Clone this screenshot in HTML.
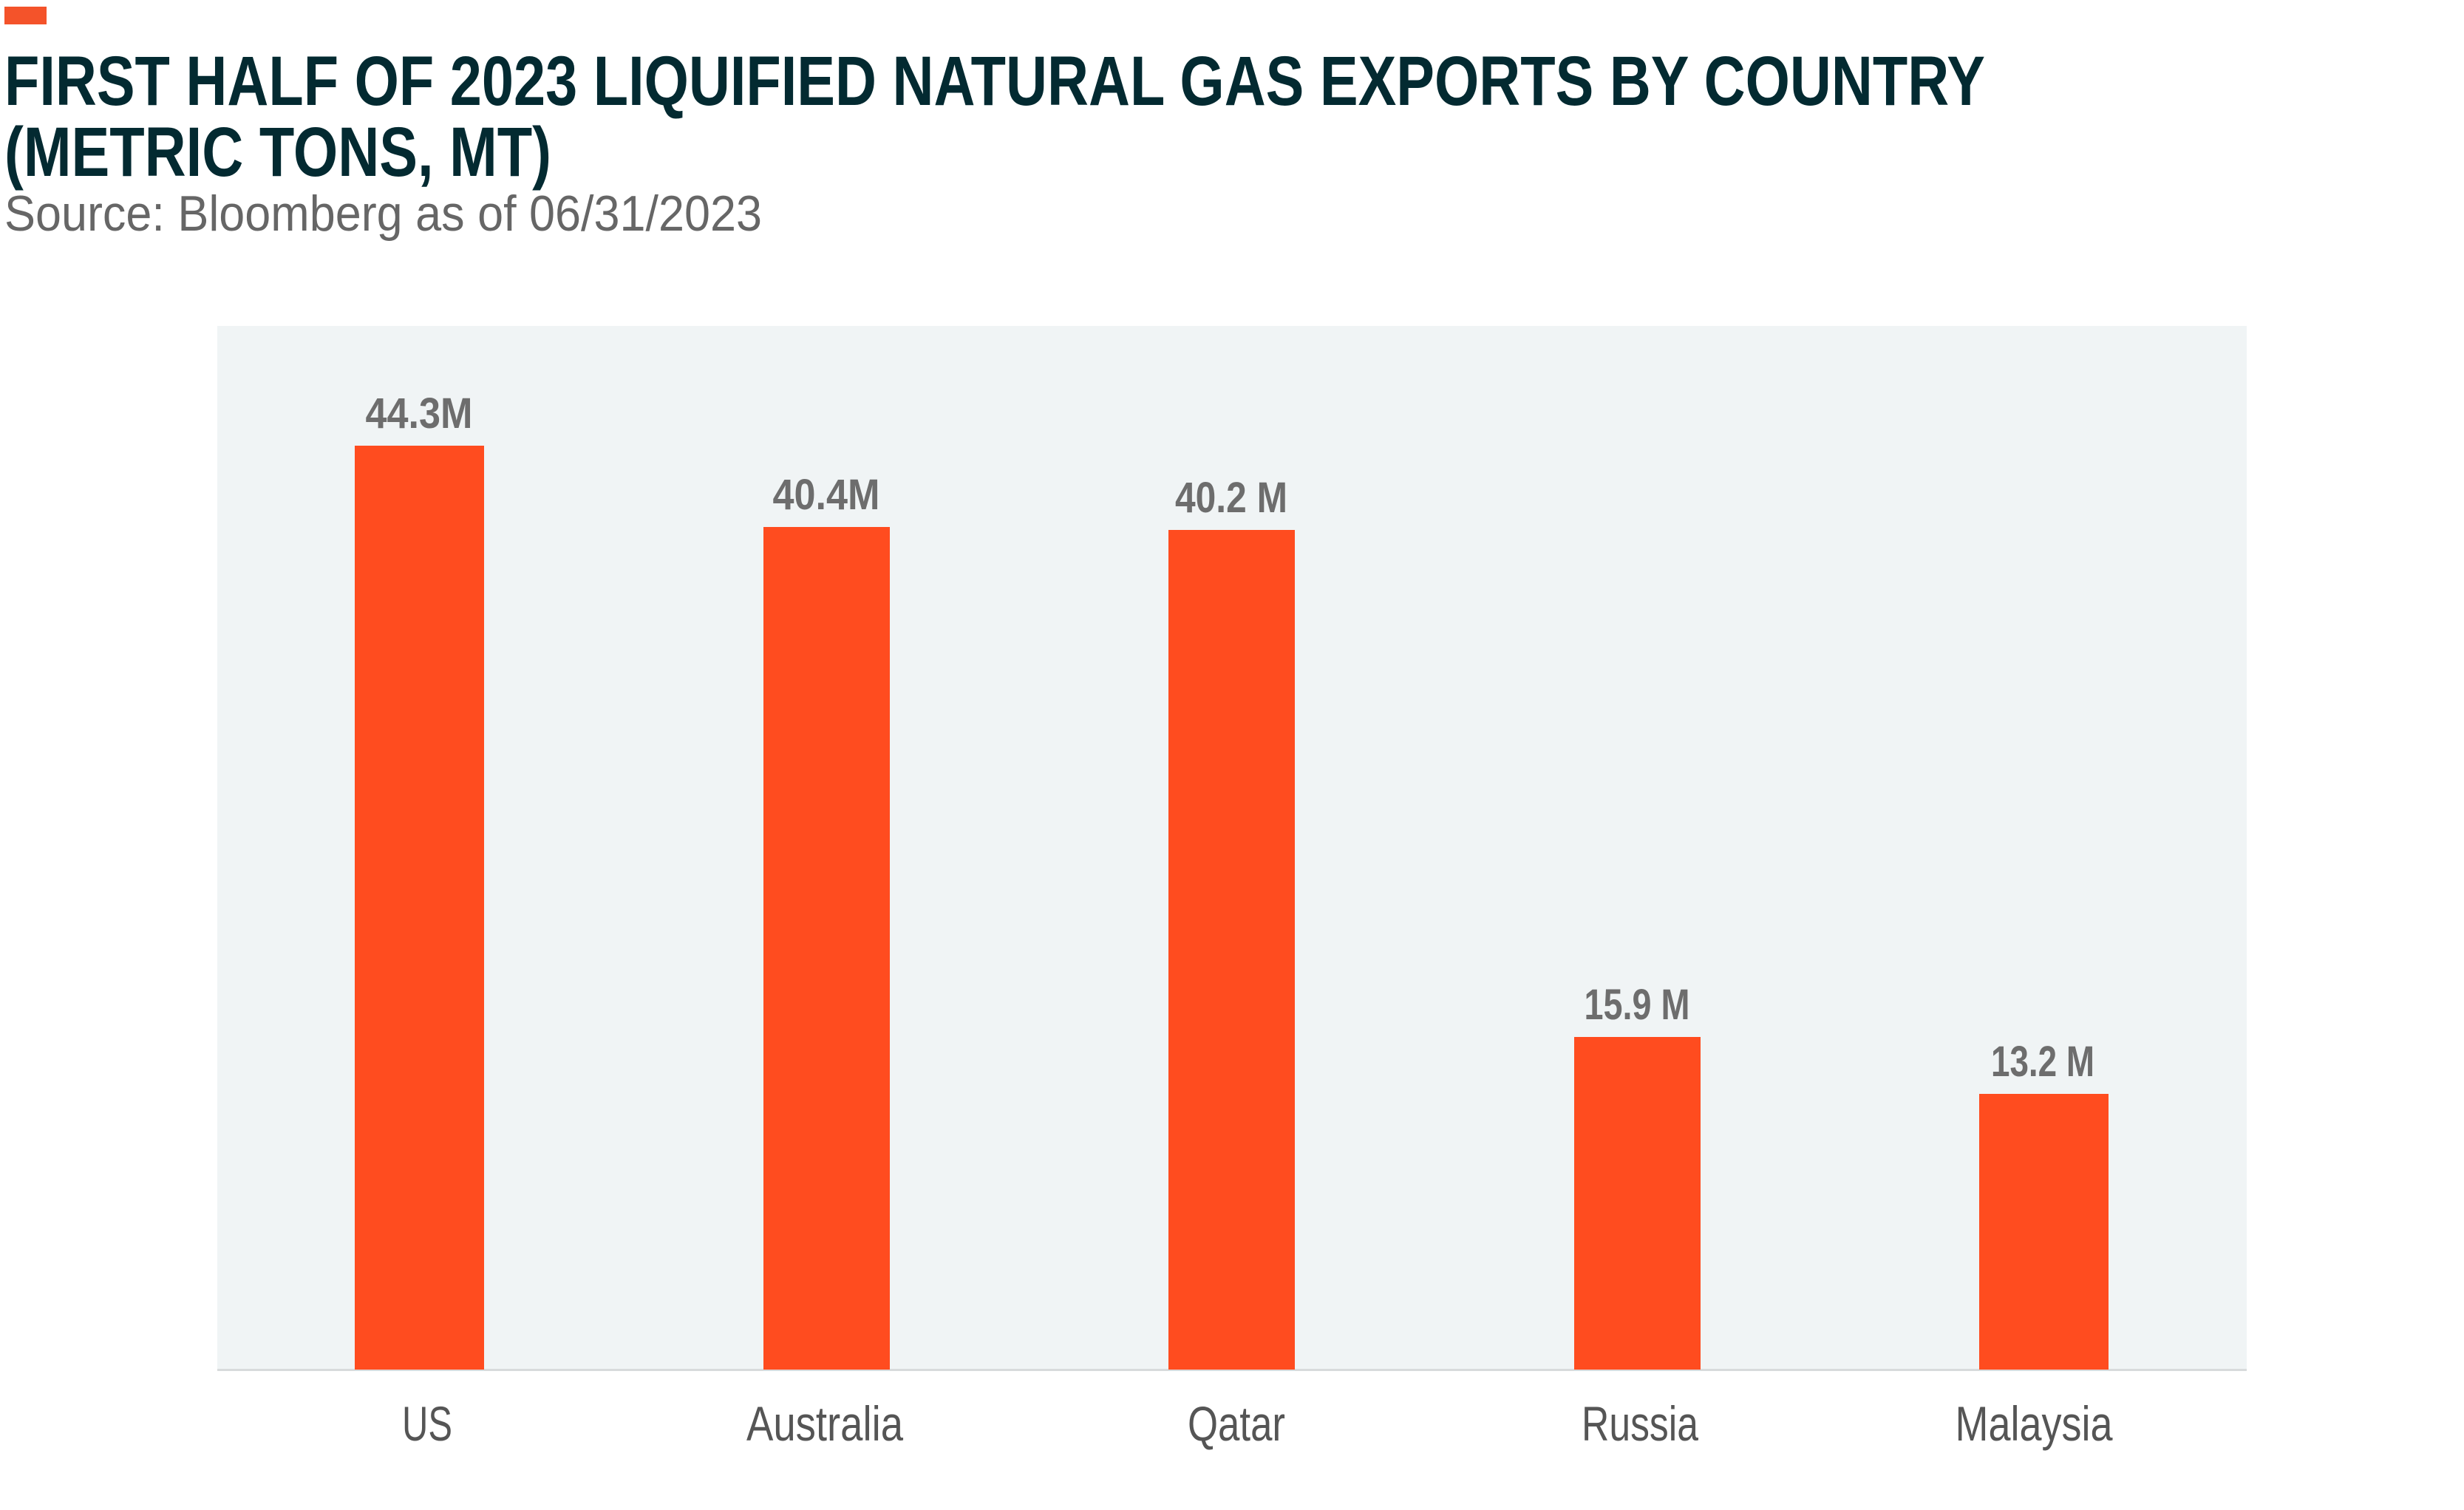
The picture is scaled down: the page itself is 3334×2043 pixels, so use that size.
<!DOCTYPE html>
<html><head><meta charset="utf-8"><style>
html,body{margin:0;padding:0;background:#fff;}
svg{display:block;}
</style></head><body>
<svg width="3334" height="2043" viewBox="0 0 3334 2043" xmlns="http://www.w3.org/2000/svg">
<rect x="0" y="0" width="3334" height="2043" fill="#fff"/>
<rect x="6" y="9" width="57" height="24" fill="#f4532a"/>
<g font-family="Liberation Sans, Arial, sans-serif">
<text x="6" y="142" font-size="95" font-weight="bold" fill="#032a31" textLength="2680" lengthAdjust="spacingAndGlyphs">FIRST HALF OF 2023 LIQUIFIED NATURAL GAS EXPORTS BY COUNTRY</text>
<text x="6" y="238" font-size="95" font-weight="bold" fill="#032a31" textLength="740" lengthAdjust="spacingAndGlyphs">(METRIC TONS, MT)</text>
<text x="6" y="312" font-size="68" fill="#666" textLength="1025" lengthAdjust="spacingAndGlyphs">Source: Bloomberg as of 06/31/2023</text>
</g>
<rect x="294" y="441" width="2746" height="1412" fill="#f0f4f5"/>
<rect x="294" y="1852" width="2746" height="3" fill="#d8dbdc"/>
<g fill="#ff4c1f">
<rect x="480" y="603" width="175" height="1250"/>
<rect x="1033" y="713" width="171" height="1140"/>
<rect x="1581" y="717" width="171" height="1136"/>
<rect x="2130" y="1403" width="171" height="450"/>
<rect x="2678" y="1480" width="175" height="373"/>
</g>
<g font-family="Liberation Sans, Arial, sans-serif" font-size="58" font-weight="bold" fill="#6d6d6d" text-anchor="middle">
<text x="567" y="579" textLength="145" lengthAdjust="spacingAndGlyphs">44.3M</text>
<text x="1118" y="689" textLength="145" lengthAdjust="spacingAndGlyphs">40.4M</text>
<text x="1666" y="693" textLength="152" lengthAdjust="spacingAndGlyphs">40.2 M</text>
<text x="2215" y="1379" textLength="143" lengthAdjust="spacingAndGlyphs">15.9 M</text>
<text x="2764" y="1456" textLength="140" lengthAdjust="spacingAndGlyphs">13.2 M</text>
</g>
<g font-family="Liberation Sans, Arial, sans-serif" font-size="66" fill="#555" text-anchor="middle">
<text x="578" y="1949" textLength="68" lengthAdjust="spacingAndGlyphs">US</text>
<text x="1116" y="1949" textLength="212" lengthAdjust="spacingAndGlyphs">Australia</text>
<text x="1673" y="1949" textLength="132" lengthAdjust="spacingAndGlyphs">Qatar</text>
<text x="2219" y="1949" textLength="158" lengthAdjust="spacingAndGlyphs">Russia</text>
<text x="2752" y="1949" textLength="213" lengthAdjust="spacingAndGlyphs">Malaysia</text>
</g>
</svg>
</body></html>
